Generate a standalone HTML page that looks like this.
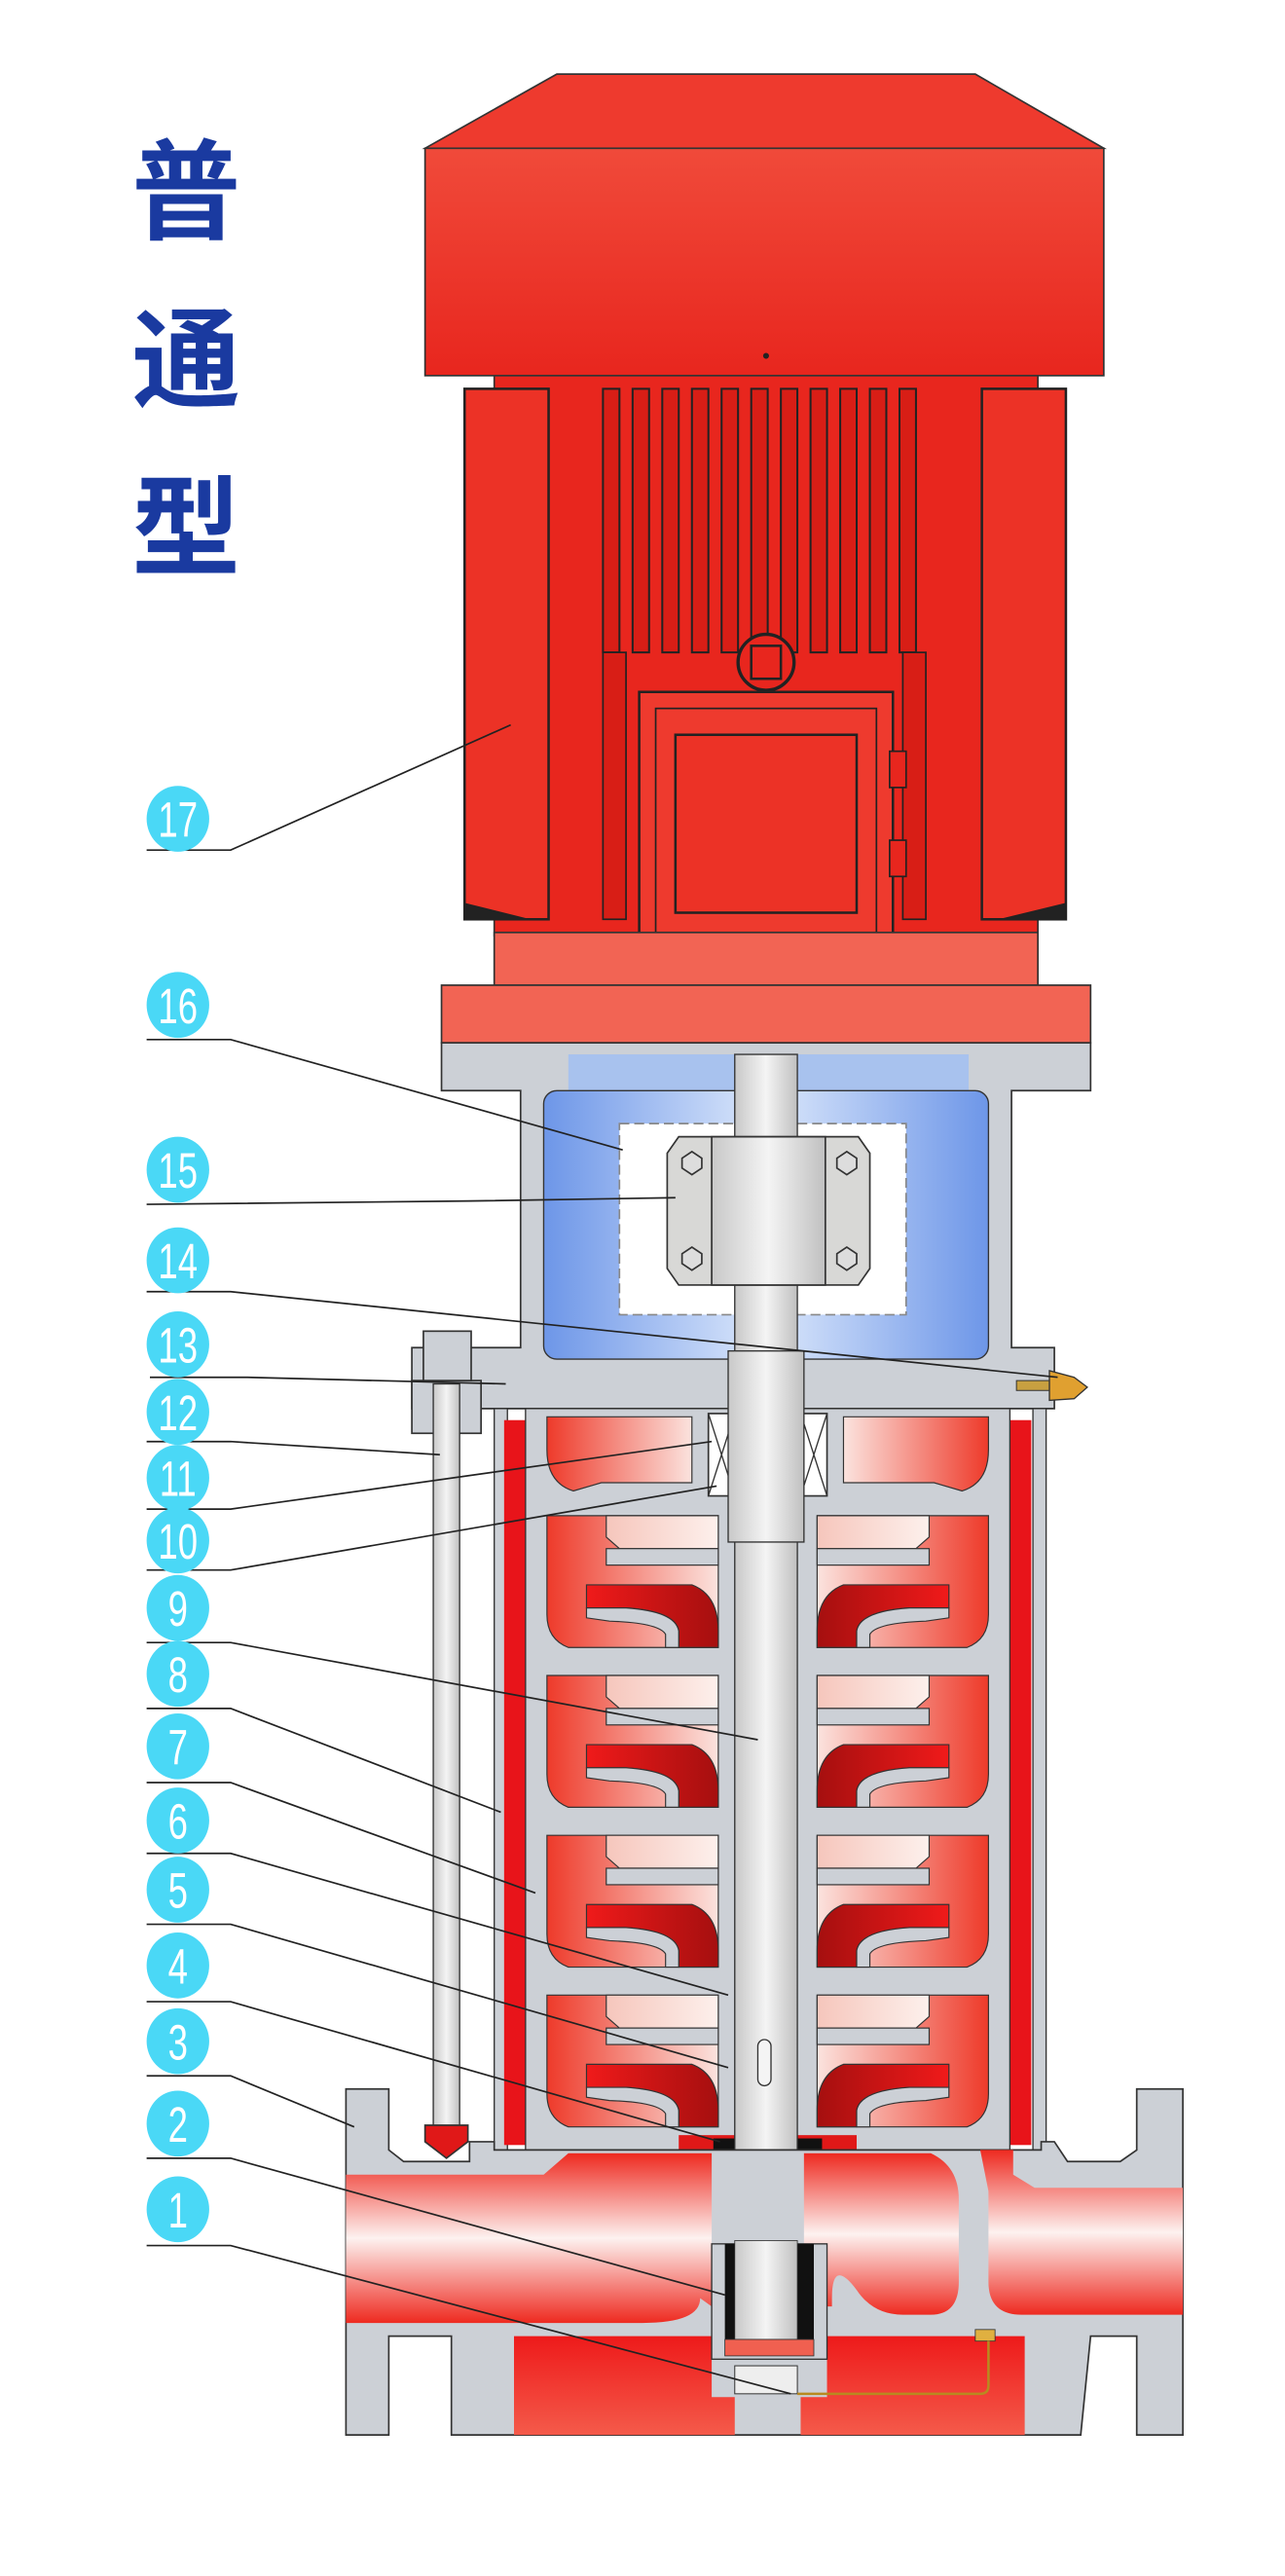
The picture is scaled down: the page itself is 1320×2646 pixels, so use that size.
<!DOCTYPE html>
<html><head><meta charset="utf-8"><style>
html,body{margin:0;padding:0;background:#fff}
svg{display:block}
</style></head><body>
<svg width="1320" height="2646" viewBox="0 0 780 1563.6" preserveAspectRatio="none" xmlns="http://www.w3.org/2000/svg">
<defs>
<linearGradient id="mot" x1="0" y1="0" x2="0" y2="1"><stop offset="0" stop-color="#f04a3a"/><stop offset="1" stop-color="#e8261e"/></linearGradient>
<linearGradient id="blue" x1="0" y1="0" x2="1" y2="0"><stop offset="0" stop-color="#6d96e8"/><stop offset="0.5" stop-color="#dce8fb"/><stop offset="1" stop-color="#6d96e8"/></linearGradient>
<linearGradient id="shaft" x1="0" y1="0" x2="1" y2="0"><stop offset="0" stop-color="#c8c8c8"/><stop offset="0.5" stop-color="#f4f4f4"/><stop offset="1" stop-color="#c0c0c0"/></linearGradient>
<linearGradient id="chL" x1="0" y1="0" x2="1" y2="0"><stop offset="0" stop-color="#ee3a2a"/><stop offset="1" stop-color="#fbe3de"/></linearGradient>
<linearGradient id="chR" x1="1" y1="0" x2="0" y2="0"><stop offset="0" stop-color="#ee3a2a"/><stop offset="1" stop-color="#fbe3de"/></linearGradient>
<linearGradient id="imp" x1="0" y1="0" x2="1" y2="0"><stop offset="0" stop-color="#f01a1a"/><stop offset="1" stop-color="#a50f0f"/></linearGradient>
<linearGradient id="impR" x1="1" y1="0" x2="0" y2="0"><stop offset="0" stop-color="#f01a1a"/><stop offset="1" stop-color="#a50f0f"/></linearGradient>
<linearGradient id="pipe" x1="0" y1="0" x2="0" y2="1"><stop offset="0" stop-color="#ee2a20"/><stop offset="0.5" stop-color="#fdf2f0"/><stop offset="1" stop-color="#ee2a20"/></linearGradient>
<linearGradient id="botred" x1="0" y1="0" x2="0" y2="1"><stop offset="0" stop-color="#ee1a1a"/><stop offset="1" stop-color="#f45a4a"/></linearGradient>
<linearGradient id="pink" x1="0" y1="0" x2="1" y2="0"><stop offset="0" stop-color="#f6c6bc"/><stop offset="1" stop-color="#fdf0ec"/></linearGradient>
</defs>

<g font-family="'Liberation Sans','Noto Sans CJK SC',sans-serif" font-size="66" fill="#1a3aa0" font-weight="bold">
<text x="80" y="140">普</text><text x="80" y="242">通</text><text x="80" y="344">型</text>
</g>

<polygon points="258,90 338,45 592,45 670,90" fill="#ee3a2e" stroke="#333" stroke-width="1"/>
<rect x="258" y="90" width="412" height="138" fill="url(#mot)" stroke="#333" stroke-width="1"/>
<circle cx="465" cy="216" r="1.8" fill="#222"/>
<rect x="300" y="228" width="330" height="340" fill="#e8261e" stroke="#333" stroke-width="1"/>
<rect x="282" y="236" width="51" height="322" fill="#ec3226" stroke="#222" stroke-width="1.5"/>
<rect x="596" y="236" width="51" height="322" fill="#ec3226" stroke="#222" stroke-width="1.5"/>
<polygon points="282,548 322,558 282,558" fill="#222"/>
<polygon points="647,548 606,558 647,558" fill="#222"/>
<g fill="#d81e16" stroke="#222" stroke-width="1.2">
<rect x="366" y="236" width="10" height="160"/><rect x="384" y="236" width="10" height="160"/><rect x="402" y="236" width="10" height="160"/><rect x="420" y="236" width="10" height="160"/><rect x="438" y="236" width="10" height="160"/><rect x="456" y="236" width="10" height="160"/><rect x="474" y="236" width="10" height="160"/><rect x="492" y="236" width="10" height="160"/><rect x="510" y="236" width="10" height="160"/><rect x="528" y="236" width="10" height="160"/><rect x="546" y="236" width="10" height="160"/>
</g>
<rect x="366" y="396" width="14" height="162" fill="#d81e16" stroke="#222"/>
<rect x="548" y="396" width="14" height="162" fill="#d81e16" stroke="#222"/>
<circle cx="465" cy="402" r="17" fill="#e8261e" stroke="#222" stroke-width="2"/>
<rect x="456" y="392" width="18" height="20" fill="none" stroke="#222" stroke-width="1.5"/>
<rect x="388" y="420" width="154" height="156" fill="#ee3a2e" stroke="#222" stroke-width="1.5"/>
<rect x="398" y="430" width="134" height="136" fill="none" stroke="#222" stroke-width="1"/>
<rect x="410" y="446" width="110" height="108" fill="#ec3226" stroke="#222" stroke-width="1.5"/>
<rect x="540" y="456" width="10" height="22" fill="#e8261e" stroke="#222"/>
<rect x="540" y="510" width="10" height="22" fill="#e8261e" stroke="#222"/>
<rect x="300" y="566" width="330" height="32" fill="#f26454" stroke="#333"/>
<rect x="268" y="598" width="394" height="35" fill="#f26454" stroke="#333"/>
<rect x="322" y="633" width="286" height="8" fill="#e01818"/>

<path d="M268,633 H662 V662 H614 V818 H640 V855 H250 V818 H316 V662 H268 Z" fill="#ccd0d6" stroke="#333" stroke-width="1"/>
<rect x="345" y="640" width="243" height="24" fill="#a8c2ee"/>
<rect x="330" y="662" width="270" height="163" rx="8" fill="url(#blue)" stroke="#333" stroke-width="0.8"/>
<rect x="376" y="682" width="174" height="116" fill="#fff" stroke="#888" stroke-dasharray="6,3"/>
<rect x="446" y="640" width="38" height="190" fill="url(#shaft)" stroke="#333" stroke-width="0.8"/>
<path d="M412,690 H521 L528,700 V770 L521,780 H412 L405,770 V700 Z" fill="#d8d8d6" stroke="#333"/>
<rect x="432" y="690" width="69" height="90" fill="url(#shaft)" stroke="#333"/>
<g fill="#ddd" stroke="#333" stroke-width="1">
<polygon points="414,703 420,699 426,703 426,709 420,713 414,709"/>
<polygon points="508,703 514,699 520,703 520,709 514,713 508,709"/>
<polygon points="414,761 420,757 426,761 426,767 420,771 414,767"/>
<polygon points="508,761 514,757 520,761 520,767 514,771 508,767"/>
</g>
<rect x="250" y="838" width="42" height="32" fill="#ccd0d6" stroke="#333"/>
<rect x="257" y="808" width="29" height="30" fill="#ccd0d6" stroke="#333"/>
<rect x="263" y="840" width="16" height="460" fill="url(#shaft)" stroke="#333" stroke-width="0.8"/>
<polygon points="258,1290 284,1290 284,1300 271,1310 258,1300" fill="#e01818" stroke="#333"/>
<rect x="617" y="838" width="20" height="6" fill="#c8a040" stroke="#333" stroke-width="0.6"/>
<polygon points="637,832 652,836 660,842 652,849 637,850" fill="#e0a030" stroke="#333" stroke-width="0.8"/>

<rect x="300" y="855" width="8" height="450" fill="#ccd0d6" stroke="#333" stroke-width="0.8"/>
<rect x="627" y="855" width="8" height="450" fill="#ccd0d6" stroke="#333" stroke-width="0.8"/>
<rect x="306" y="862" width="13" height="440" fill="#e8141a"/>
<rect x="613" y="862" width="13" height="440" fill="#e8141a"/>
<rect x="319" y="855" width="294" height="450" fill="#ccd0d6" stroke="#333" stroke-width="0.8"/>
<path d="M332,860 H420 V900 H365 L348,905 Q332,900 332,880 Z" fill="url(#chL)" stroke="#333" stroke-width="0.7"/>
<path d="M600,860 H512 V900 H567 L584,905 Q600,900 600,880 Z" fill="url(#chR)" stroke="#333" stroke-width="0.7"/>
<rect x="430" y="858" width="16" height="50" fill="#fff" stroke="#333"/>
<rect x="486" y="858" width="16" height="50" fill="#fff" stroke="#333"/>
<path d="M430,858 L446,908 M446,858 L430,908 M486,858 L502,908 M502,858 L486,908" stroke="#333" stroke-width="0.8"/>

<g id="stage">
<path d="M332,920 H436 V1000 H345 Q332,995 332,980 Z" fill="url(#chL)" stroke="#333" stroke-width="0.7"/>
<path d="M368,920 H436 V940 H376 L368,933 Z" fill="url(#pink)" stroke="#333" stroke-width="0.7"/>
<rect x="368" y="940" width="68" height="10" fill="#ccd0d6" stroke="#333" stroke-width="0.7"/>
<path d="M356,962 H420 Q436,968 436,990 V1000 H412 V990 Q410,978 380,976 H356 Z" fill="url(#imp)" stroke="#333" stroke-width="0.7"/>
<path d="M356,976 H380 Q410,978 412,990 V1000 H404 V992 Q400,985 370,984 L356,982 Z" fill="#ccd0d6" stroke="#333" stroke-width="0.7"/>
<path d="M600,920 H496 V1000 H587 Q600,995 600,980 Z" fill="url(#chR)" stroke="#333" stroke-width="0.7"/>
<path d="M564,920 H496 V940 H556 L564,933 Z" fill="url(#pink)" stroke="#333" stroke-width="0.7"/>
<rect x="496" y="940" width="68" height="10" fill="#ccd0d6" stroke="#333" stroke-width="0.7"/>
<path d="M576,962 H512 Q496,968 496,990 V1000 H520 V990 Q522,978 552,976 H576 Z" fill="url(#impR)" stroke="#333" stroke-width="0.7"/>
<path d="M576,976 H552 Q522,978 520,990 V1000 H528 V992 Q532,985 562,984 L576,982 Z" fill="#ccd0d6" stroke="#333" stroke-width="0.7"/>
</g>
<use href="#stage" y="97"/>
<use href="#stage" y="194"/>
<use href="#stage" y="291"/>
<rect x="412" y="1296" width="108" height="10" fill="#e01818"/>
<rect x="433" y="1298" width="66" height="8" fill="#111"/>

<rect x="446" y="830" width="38" height="620" fill="url(#shaft)" stroke="#333" stroke-width="0.8"/>
<rect x="442" y="820" width="46" height="116" fill="url(#shaft)" stroke="#333" stroke-width="0.8"/>
<rect x="460" y="1238" width="8" height="28" rx="4" fill="#f4f4f4" stroke="#333" stroke-width="0.8"/>

<path d="M210,1268 H236 V1305 L245,1312 H285 V1300 H300 V1305 H632 V1300 H640 L648,1312 H680 L690,1305 V1268 H718 V1478 H690 V1418 H662 L656,1478 H274 V1418 H236 V1478 H210 Z" fill="#ccd0d6" stroke="#333" stroke-width="1"/>
<path d="M210,1320 H330 L345,1307 H432 V1400 L425,1395 Q425,1410 390,1410 H210 Z" fill="url(#pipe)"/>
<path d="M488,1307 H565 Q582,1315 582,1335 V1385 Q582,1405 565,1405 H548 Q530,1405 520,1390 Q505,1370 505,1395 V1400 L488,1400 Z" fill="url(#pipe)"/>
<path d="M595,1305 H615 V1320 L628,1328 H718 V1405 H620 Q600,1405 600,1385 V1330 Z" fill="url(#pipe)"/>
<path d="M312,1418 H432 V1455 H446 V1478 H312 Z" fill="url(#botred)"/>
<path d="M502,1418 H622 V1478 H486 V1455 H502 Z" fill="url(#botred)"/>
<rect x="432" y="1362" width="70" height="70" fill="#ccd0d6" stroke="#333" stroke-width="0.8"/>
<rect x="440" y="1362" width="54" height="58" fill="#111"/>
<rect x="446" y="1360" width="38" height="60" fill="url(#shaft)" stroke="#333" stroke-width="0.5"/>
<rect x="440" y="1420" width="54" height="10" fill="#f06050" stroke="#333" stroke-width="0.5"/>
<rect x="446" y="1436" width="38" height="17" fill="#eee" stroke="#333" stroke-width="0.6"/>
<rect x="592" y="1414" width="12" height="7" fill="#e0b040" stroke="#333" stroke-width="0.5"/>
<path d="M600,1421 V1448 Q600,1453 595,1453 H484" fill="none" stroke="#b88a20" stroke-width="1.5"/>

<g fill="none" stroke="#222" stroke-width="1">
<polyline points="89,516 140,516 310,440"/>
<polyline points="89,631 140,631 378,698"/>
<polyline points="89,731 285,729 410,727"/>
<polyline points="89,784 140,784 642,836"/>
<polyline points="91,836 150,836 307,840"/>
<polyline points="89,875 140,875 267,883"/>
<polyline points="89,916 140,916 432,875"/>
<polyline points="89,953 140,953 435,902"/>
<polyline points="89,997 140,997 460,1056"/>
<polyline points="89,1037 140,1037 304,1100"/>
<polyline points="89,1082 140,1082 325,1149"/>
<polyline points="89,1125 140,1125 442,1211"/>
<polyline points="89,1168 140,1168 442,1255"/>
<polyline points="89,1215 140,1215 437,1300"/>
<polyline points="89,1260 140,1260 215,1291"/>
<polyline points="89,1310 140,1310 440,1393"/>
<polyline points="89,1363 140,1363 480,1453"/>
</g>

<g fill="#4ad8f6">
<ellipse cx="108" cy="497" rx="19" ry="20"/><ellipse cx="108" cy="610" rx="19" ry="20"/><ellipse cx="108" cy="710" rx="19" ry="20"/><ellipse cx="108" cy="765" rx="19" ry="20"/><ellipse cx="108" cy="816" rx="19" ry="20"/><ellipse cx="108" cy="857" rx="19" ry="20"/><ellipse cx="108" cy="897" rx="19" ry="20"/><ellipse cx="108" cy="935" rx="19" ry="20"/><ellipse cx="108" cy="976" rx="19" ry="20"/><ellipse cx="108" cy="1016" rx="19" ry="20"/><ellipse cx="108" cy="1060" rx="19" ry="20"/><ellipse cx="108" cy="1105" rx="19" ry="20"/><ellipse cx="108" cy="1147" rx="19" ry="20"/><ellipse cx="108" cy="1193" rx="19" ry="20"/><ellipse cx="108" cy="1239" rx="19" ry="20"/><ellipse cx="108" cy="1289" rx="19" ry="20"/><ellipse cx="108" cy="1341" rx="19" ry="20"/>
</g>
<g fill="#fff" font-family="'Liberation Sans Narrow','Liberation Sans',sans-serif" font-size="30" text-anchor="middle" transform="translate(108,0) scale(0.72,1) translate(-108,0)">
<text x="108" y="508">17</text><text x="108" y="621">16</text><text x="108" y="721">15</text><text x="108" y="776">14</text><text x="108" y="827">13</text><text x="108" y="868">12</text><text x="108" y="908">11</text><text x="108" y="946">10</text><text x="108" y="987">9</text><text x="108" y="1027">8</text><text x="108" y="1071">7</text><text x="108" y="1116">6</text><text x="108" y="1158">5</text><text x="108" y="1204">4</text><text x="108" y="1250">3</text><text x="108" y="1300">2</text><text x="108" y="1352">1</text>
</g>
</svg>
</body></html>
